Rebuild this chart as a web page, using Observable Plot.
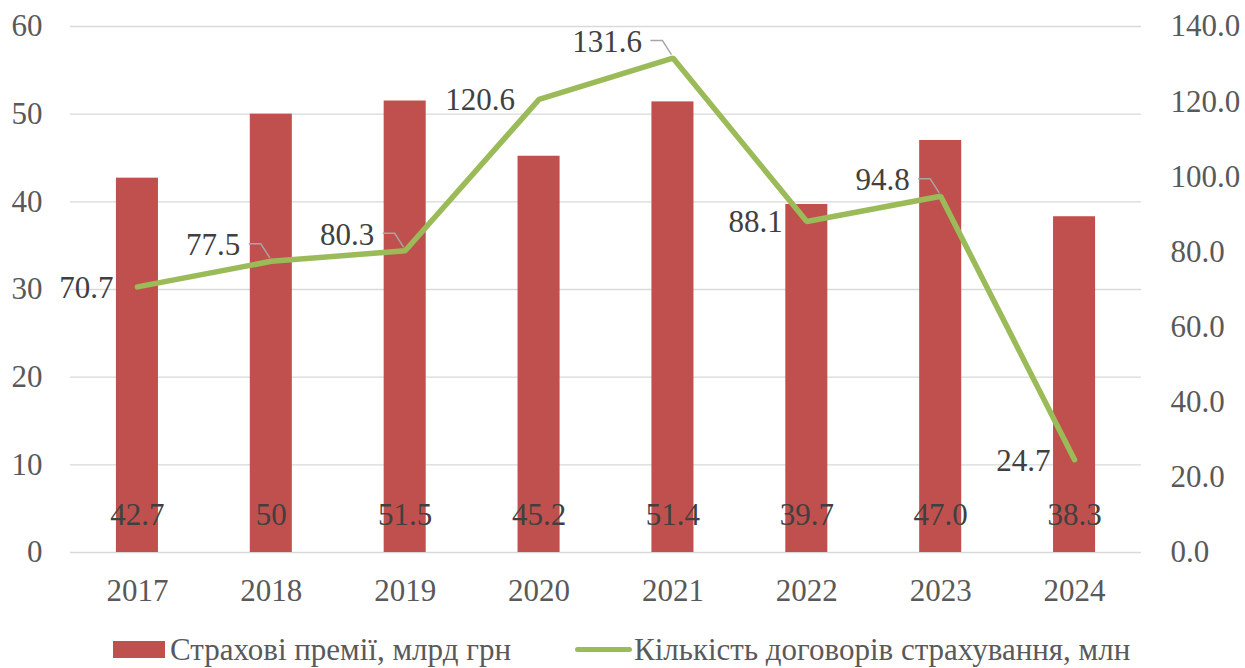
<!DOCTYPE html>
<html>
<head>
<meta charset="utf-8">
<script src="https://cdn.jsdelivr.net/npm/d3@7"></script>
<script src="https://cdn.jsdelivr.net/npm/@observablehq/plot@0.6"></script>
</head>
<body style="margin:0;padding:0;background:#fff;font-family:'Liberation Serif',serif;">
<div id="wrap" style="position:relative;width:1245px;height:668px;font-family:'Liberation Serif',serif;">
  <div id="chart"></div>
  <div id="legend" style="position:absolute;left:0;top:620px;width:1245px;height:48px;">
    <div style="position:absolute;left:113px;top:21px;width:52px;height:17px;background:#C0504D;"></div>
    <div style="position:absolute;left:170px;top:14px;font-family:'Liberation Serif',serif;font-size:31px;color:#595959;line-height:1;white-space:nowrap;">Страхові премії, млрд грн</div>
    <div style="position:absolute;left:575px;top:27px;width:57px;height:5px;border-radius:3px;background:#9BBB59;"></div>
    <div style="position:absolute;left:634px;top:14px;font-family:'Liberation Serif',serif;font-size:31px;color:#595959;line-height:1;white-space:nowrap;">Кількість договорів страхування, млн</div>
  </div>
</div>
<script>
const years = ["2017", "2018", "2019", "2020", "2021", "2022", "2023", "2024"];
const premiums = [42.7, 50, 51.5, 45.2, 51.4, 39.7, 47.0, 38.3];
const premiumLabels = ["42.7", "50", "51.5", "45.2", "51.4", "39.7", "47.0", "38.3"];
const contracts = [70.7, 77.5, 80.3, 120.6, 131.6, 88.1, 94.8, 24.7];
const leftTicks = [0, 10, 20, 30, 40, 50, 60];
const rightTicks = [0, 20, 40, 60, 80, 100, 120, 140];

// label layout: which line labels are lifted with a leader line
const leaderYears = ["2018", "2019", "2021", "2023"];

const k = 60 / 140; // right axis (0–140) mapped onto left axis (0–60)
const rows = years.map((year, i) => ({
  year,
  premium: premiums[i],
  label: premiumLabels[i],
  contracts: contracts[i],
  cy: contracts[i] * k
}));
const leaderRows = rows.filter(d => leaderYears.includes(d.year));
const plainRows = rows.filter(d => !leaderYears.includes(d.year));

function leaders(index, scales) {
  const g = d3.create("svg:g");
  const bw = scales.x.bandwidth ? scales.x.bandwidth() : 0;
  for (const d of leaderRows) {
    const px = scales.x(d.year) + bw / 2;
    const py = scales.y(d.cy);
    g.append("path")
      .attr("d", `M${px - 22},${py - 17}L${px - 10},${py - 17}L${px - 1},${py - 3}`)
      .attr("fill", "none")
      .attr("stroke", "#a6a6a6")
      .attr("stroke-width", 1.4);
  }
  return g.node();
}

const chart = Plot.plot({
  width: 1245,
  height: 620,
  marginLeft: 70,
  marginRight: 104,
  marginTop: 26,
  marginBottom: 68,
  style: "font-family:'Liberation Serif',serif;font-size:31px;background:white;",
  x: { domain: years, paddingInner: 0.686, paddingOuter: 0.343, round: false },
  y: { domain: [0, 60] },
  marks: [
    Plot.gridY(leftTicks, { stroke: "#d9d9d9", strokeOpacity: 1, strokeWidth: 1.4 }),
    Plot.barY(rows, { x: "year", y: "premium", fill: "#C0504D" }),
    Plot.text(rows, { x: "year", frameAnchor: "bottom", dy: -28, text: "label", fill: "#404040" }),
    Plot.line(rows, { x: "year", y: "cy", stroke: "#9BBB59", strokeWidth: 5.5, strokeLinejoin: "miter", strokeLinecap: "round" }),
    leaders,
    Plot.text(leaderRows, { x: "year", y: "cy", text: d => d.contracts.toFixed(1), textAnchor: "end", dx: -31, dy: -16, fill: "#404040" }),
    Plot.text(plainRows, { x: "year", y: "cy", text: d => d.contracts.toFixed(1), textAnchor: "end", dx: -24, dy: 1, fill: "#404040" }),
    Plot.axisX({ tickSize: 0, tickPadding: 26, label: null, fill: "#595959" }),
    Plot.axisY(leftTicks, { anchor: "left", tickSize: 0, tickPadding: 28, label: null, fill: "#595959", tickFormat: d => String(d) }),
    Plot.axisY(rightTicks.map(v => v * k), { anchor: "right", tickSize: 0, tickPadding: 29, label: null, fill: "#595959", tickFormat: d => (d / k).toFixed(1) })
  ]
});
chart.setAttribute("font-family", "Liberation Serif");
chart.querySelectorAll("text").forEach(t => t.setAttribute("font-family", "Liberation Serif"));
document.getElementById("chart").appendChild(chart);
</script>
</body>
</html>
